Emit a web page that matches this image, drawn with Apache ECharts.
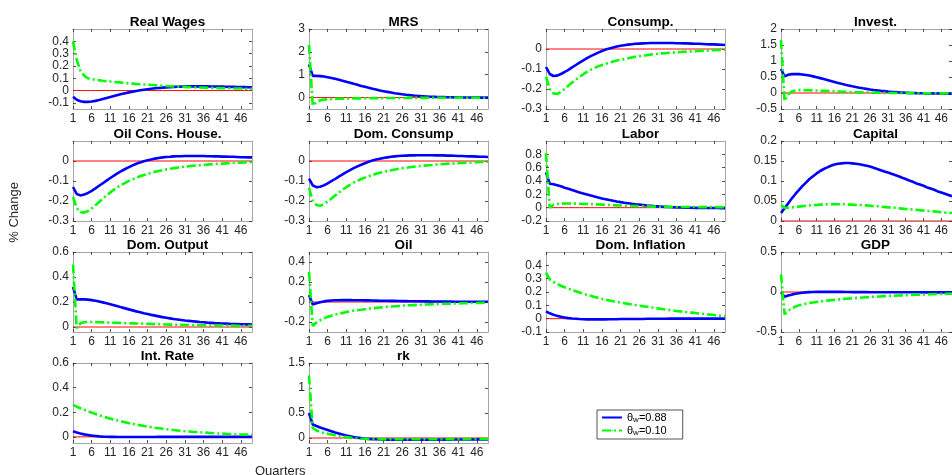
<!DOCTYPE html>
<html>
<head>
<meta charset="utf-8">
<script src="https://cdn.jsdelivr.net/npm/echarts@6/dist/echarts.min.js"></script>
<style>
  html, body { margin: 0; padding: 0; background: #fff; }
  #chart { width: 952px; height: 475px; }
</style>
</head>
<body>
<div id="chart"></div>
<script>
// quarters on the x axis and the tick labels shown under every panel
const quarters = [1,2,3,4,5,6,7,8,9,10,11,12,13,14,15,16,17,18,19,20,21,22,23,24,25,26,27,28,29,30,31,32,33,34,35,36,37,38,39,40,41,42,43,44,45,46,47,48,49];
const xTicks = [1,6,11,16,21,26,31,36,41,46];
// steady state reference (red line)
const zeroLine = [0,0,0,0,0,0,0,0,0,0,0,0,0,0,0,0,0,0,0,0,0,0,0,0,0,0,0,0,0,0,0,0,0,0,0,0,0,0,0,0,0,0,0,0,0,0,0,0,0];

// theta_w = 0.88 (blue) and theta_w = 0.10 (green), one pair per panel
const realWagesHigh = [-0.05,-0.075,-0.087,-0.092,-0.092,-0.089,-0.084,-0.077,-0.069,-0.061,-0.053,-0.045,-0.037,-0.029,-0.022,-0.015,-0.009,-0.003,0.002,0.007,0.011,0.015,0.018,0.021,0.024,0.026,0.028,0.030,0.031,0.032,0.033,0.034,0.034,0.034,0.034,0.034,0.034,0.033,0.033,0.032,0.032,0.031,0.030,0.030,0.029,0.028,0.028,0.027,0.026];
const realWagesLow = [0.40,0.25,0.16,0.12,0.10,0.093,0.087,0.083,0.079,0.076,0.073,0.070,0.067,0.064,0.061,0.058,0.056,0.053,0.051,0.049,0.047,0.045,0.043,0.041,0.039,0.037,0.035,0.034,0.032,0.031,0.029,0.028,0.027,0.026,0.025,0.024,0.023,0.022,0.021,0.020,0.019,0.018,0.018,0.017,0.016,0.016,0.015,0.015,0.014];

const mrsHigh = [1.45,0.95,0.95,0.94,0.92,0.89,0.86,0.82,0.78,0.74,0.69,0.65,0.60,0.56,0.51,0.47,0.43,0.39,0.35,0.31,0.28,0.25,0.22,0.19,0.17,0.145,0.125,0.108,0.092,0.078,0.066,0.055,0.046,0.038,0.031,0.025,0.020,0.015,0.011,0.008,0.005,0.003,0.001,0,-0.001,-0.002,-0.003,-0.003,-0.004];
const mrsLow = [2.3,-0.35,-0.2,-0.12,-0.09,-0.075,-0.065,-0.058,-0.053,-0.049,-0.045,-0.042,-0.039,-0.036,-0.034,-0.032,-0.030,-0.028,-0.026,-0.024,-0.023,-0.021,-0.020,-0.019,-0.018,-0.017,-0.016,-0.015,-0.014,-0.013,-0.012,-0.012,-0.011,-0.010,-0.010,-0.009,-0.009,-0.008,-0.008,-0.007,-0.007,-0.007,-0.006,-0.006,-0.006,-0.005,-0.005,-0.005,-0.005];

const consumpHigh = [-0.09,-0.125,-0.135,-0.133,-0.125,-0.115,-0.104,-0.092,-0.080,-0.068,-0.057,-0.046,-0.036,-0.027,-0.018,-0.010,-0.003,0.003,0.008,0.012,0.016,0.019,0.022,0.024,0.026,0.027,0.028,0.029,0.030,0.030,0.030,0.030,0.030,0.030,0.030,0.029,0.029,0.028,0.028,0.027,0.026,0.026,0.025,0.024,0.023,0.023,0.022,0.021,0.020];
const consumpLow = [-0.14,-0.2,-0.222,-0.225,-0.215,-0.2,-0.184,-0.168,-0.153,-0.139,-0.126,-0.114,-0.104,-0.095,-0.087,-0.080,-0.074,-0.068,-0.063,-0.058,-0.054,-0.050,-0.046,-0.042,-0.039,-0.036,-0.033,-0.031,-0.028,-0.026,-0.024,-0.022,-0.021,-0.019,-0.018,-0.016,-0.015,-0.014,-0.013,-0.012,-0.011,-0.010,-0.009,-0.008,-0.007,-0.006,-0.005,-0.004,-0.003];

const investHigh = [0.75,0.52,0.57,0.59,0.595,0.59,0.58,0.565,0.545,0.52,0.495,0.465,0.435,0.405,0.375,0.345,0.315,0.287,0.26,0.234,0.21,0.187,0.166,0.146,0.128,0.111,0.096,0.082,0.069,0.058,0.047,0.038,0.030,0.022,0.016,0.010,0.005,0.001,-0.003,-0.006,-0.009,-0.011,-0.013,-0.015,-0.016,-0.017,-0.018,-0.019,-0.020];
const investLow = [1.65,-0.25,-0.05,0.05,0.08,0.09,0.09,0.088,0.085,0.081,0.077,0.072,0.067,0.062,0.057,0.052,0.047,0.042,0.038,0.034,0.030,0.026,0.022,0.019,0.016,0.013,0.010,0.008,0.006,0.004,0.002,0,-0.001,-0.002,-0.003,-0.004,-0.005,-0.006,-0.007,-0.008,-0.008,-0.009,-0.009,-0.010,-0.010,-0.011,-0.011,-0.011,-0.012];

const oilConsHigh = [-0.13,-0.165,-0.172,-0.168,-0.16,-0.149,-0.137,-0.124,-0.111,-0.098,-0.085,-0.073,-0.061,-0.050,-0.040,-0.031,-0.022,-0.014,-0.007,-0.001,0.004,0.008,0.012,0.015,0.018,0.020,0.021,0.023,0.024,0.024,0.025,0.025,0.025,0.025,0.025,0.025,0.024,0.024,0.023,0.023,0.022,0.022,0.021,0.021,0.020,0.019,0.019,0.018,0.018];
const oilConsLow = [-0.18,-0.235,-0.255,-0.258,-0.25,-0.237,-0.222,-0.205,-0.188,-0.172,-0.157,-0.143,-0.131,-0.119,-0.109,-0.099,-0.091,-0.083,-0.076,-0.070,-0.064,-0.059,-0.054,-0.050,-0.046,-0.042,-0.039,-0.036,-0.033,-0.031,-0.028,-0.026,-0.024,-0.022,-0.021,-0.019,-0.018,-0.016,-0.015,-0.014,-0.013,-0.012,-0.011,-0.010,-0.009,-0.008,-0.007,-0.006,-0.005];

const domConsHigh = [-0.088,-0.122,-0.131,-0.129,-0.122,-0.112,-0.101,-0.090,-0.078,-0.067,-0.056,-0.046,-0.036,-0.027,-0.019,-0.011,-0.004,0.002,0.007,0.011,0.015,0.018,0.021,0.023,0.025,0.026,0.027,0.028,0.028,0.029,0.029,0.029,0.029,0.029,0.028,0.028,0.028,0.027,0.027,0.026,0.025,0.025,0.024,0.023,0.023,0.022,0.021,0.021,0.020];
const domConsLow = [-0.135,-0.198,-0.22,-0.224,-0.216,-0.203,-0.188,-0.173,-0.158,-0.144,-0.131,-0.119,-0.108,-0.099,-0.090,-0.083,-0.076,-0.070,-0.064,-0.059,-0.055,-0.050,-0.046,-0.043,-0.039,-0.036,-0.034,-0.031,-0.029,-0.027,-0.025,-0.023,-0.021,-0.020,-0.018,-0.017,-0.015,-0.014,-0.013,-0.012,-0.011,-0.010,-0.009,-0.008,-0.007,-0.006,-0.005,-0.004,-0.004];

const laborHigh = [0.53,0.36,0.35,0.335,0.32,0.30,0.283,0.265,0.247,0.229,0.211,0.196,0.181,0.166,0.152,0.139,0.127,0.115,0.104,0.093,0.083,0.074,0.066,0.058,0.051,0.045,0.039,0.033,0.028,0.023,0.019,0.015,0.012,0.009,0.006,0.004,0.002,0,-0.001,-0.002,-0.003,-0.004,-0.005,-0.005,-0.006,-0.006,-0.006,-0.007,-0.007];
const laborLow = [0.82,0.0,0.04,0.055,0.06,0.062,0.062,0.061,0.060,0.058,0.056,0.054,0.052,0.050,0.047,0.045,0.042,0.040,0.037,0.035,0.033,0.030,0.028,0.026,0.024,0.022,0.021,0.019,0.018,0.016,0.015,0.014,0.013,0.012,0.011,0.011,0.010,0.010,0.009,0.009,0.009,0.008,0.008,0.008,0.008,0.008,0.007,0.007,0.007];

const capitalHigh = [0.02,0.032,0.044,0.056,0.067,0.077,0.087,0.096,0.105,0.112,0.119,0.125,0.130,0.134,0.138,0.141,0.143,0.144,0.145,0.145,0.144,0.143,0.142,0.140,0.138,0.136,0.133,0.130,0.127,0.124,0.121,0.118,0.115,0.112,0.108,0.105,0.101,0.098,0.094,0.091,0.088,0.084,0.081,0.078,0.074,0.071,0.068,0.065,0.062];
const capitalLow = [0.04,0.033,0.033,0.034,0.035,0.036,0.037,0.038,0.039,0.040,0.040,0.041,0.041,0.042,0.042,0.042,0.042,0.042,0.042,0.041,0.041,0.040,0.040,0.039,0.039,0.038,0.037,0.037,0.036,0.035,0.034,0.034,0.033,0.032,0.031,0.030,0.029,0.029,0.028,0.027,0.026,0.025,0.025,0.024,0.023,0.022,0.021,0.021,0.020];

const domOutputHigh = [0.32,0.22,0.222,0.221,0.219,0.215,0.21,0.204,0.197,0.19,0.182,0.174,0.166,0.157,0.149,0.141,0.133,0.125,0.118,0.110,0.104,0.097,0.091,0.085,0.079,0.074,0.069,0.064,0.060,0.056,0.052,0.049,0.046,0.043,0.040,0.038,0.035,0.033,0.031,0.030,0.028,0.027,0.025,0.024,0.023,0.022,0.021,0.021,0.020];
const domOutputLow = [0.5,-0.01,0.03,0.038,0.04,0.04,0.039,0.038,0.037,0.036,0.035,0.034,0.033,0.032,0.031,0.030,0.029,0.028,0.027,0.026,0.025,0.024,0.023,0.022,0.021,0.020,0.019,0.019,0.018,0.017,0.016,0.016,0.015,0.015,0.014,0.014,0.013,0.013,0.012,0.012,0.012,0.011,0.011,0.011,0.010,0.010,0.010,0.010,0.010];

const oilHigh = [0.07,-0.025,-0.012,-0.002,0.006,0.011,0.015,0.017,0.018,0.019,0.019,0.019,0.018,0.018,0.017,0.016,0.016,0.015,0.014,0.013,0.013,0.012,0.011,0.011,0.010,0.009,0.009,0.008,0.008,0.007,0.007,0.006,0.006,0.005,0.005,0.005,0.004,0.004,0.004,0.003,0.003,0.003,0.003,0.002,0.002,0.002,0.002,0.002,0.002];
const oilLow = [0.3,-0.24,-0.205,-0.182,-0.164,-0.149,-0.137,-0.126,-0.117,-0.109,-0.101,-0.094,-0.088,-0.082,-0.077,-0.072,-0.067,-0.063,-0.059,-0.055,-0.052,-0.048,-0.045,-0.042,-0.040,-0.037,-0.035,-0.033,-0.031,-0.029,-0.027,-0.025,-0.024,-0.022,-0.021,-0.019,-0.018,-0.017,-0.016,-0.015,-0.014,-0.013,-0.012,-0.011,-0.010,-0.010,-0.009,-0.008,-0.008];

const domInflHigh = [0.055,0.04,0.03,0.021,0.014,0.008,0.004,0.001,-0.001,-0.003,-0.004,-0.005,-0.005,-0.005,-0.005,-0.005,-0.005,-0.004,-0.004,-0.004,-0.003,-0.003,-0.003,-0.002,-0.002,-0.002,-0.002,-0.001,-0.001,-0.001,-0.001,-0.001,-0.001,0,0,0,0,0,0,0,0,0,0,0,0,0,0,0,0];
const domInflLow = [0.345,0.295,0.275,0.26,0.247,0.236,0.225,0.215,0.205,0.196,0.187,0.179,0.171,0.163,0.156,0.149,0.143,0.137,0.131,0.126,0.121,0.116,0.111,0.106,0.102,0.097,0.093,0.089,0.085,0.081,0.077,0.073,0.069,0.065,0.062,0.058,0.055,0.051,0.048,0.045,0.042,0.039,0.036,0.033,0.030,0.027,0.024,0.021,0.018];

const gdpHigh = [0.0,-0.06,-0.045,-0.033,-0.023,-0.015,-0.009,-0.005,-0.002,0.0,0.001,0.002,0.002,0.002,0.002,0.002,0.001,0.001,0.0,0.0,-0.001,-0.001,-0.002,-0.002,-0.002,-0.003,-0.003,-0.003,-0.003,-0.004,-0.004,-0.004,-0.004,-0.004,-0.004,-0.004,-0.004,-0.004,-0.004,-0.004,-0.005,-0.005,-0.005,-0.005,-0.005,-0.005,-0.005,-0.005,-0.005];
const gdpLow = [0.22,-0.28,-0.235,-0.205,-0.183,-0.167,-0.155,-0.146,-0.138,-0.131,-0.125,-0.119,-0.113,-0.108,-0.103,-0.098,-0.094,-0.090,-0.086,-0.082,-0.079,-0.075,-0.072,-0.069,-0.066,-0.063,-0.060,-0.057,-0.055,-0.052,-0.050,-0.048,-0.046,-0.044,-0.042,-0.040,-0.038,-0.036,-0.034,-0.033,-0.031,-0.030,-0.028,-0.027,-0.025,-0.024,-0.023,-0.022,-0.021];

const intRateHigh = [0.045,0.035,0.027,0.02,0.015,0.01,0.007,0.004,0.002,0.001,0,0,-0.001,-0.001,-0.001,-0.001,-0.001,-0.001,-0.001,-0.001,-0.001,-0.001,-0.001,0,0,0,0,0,0,0,0,0,0,0,0,0,0,0,0,0,0,0,0,0,0,0,0,0,0];
const intRateLow = [0.26,0.245,0.232,0.22,0.208,0.197,0.186,0.176,0.166,0.157,0.148,0.14,0.132,0.125,0.118,0.111,0.105,0.099,0.094,0.088,0.083,0.079,0.074,0.07,0.066,0.062,0.059,0.055,0.052,0.049,0.046,0.044,0.041,0.039,0.037,0.035,0.033,0.031,0.029,0.027,0.026,0.024,0.023,0.022,0.02,0.019,0.018,0.017,0.016];

const rkHigh = [0.5,0.27,0.24,0.21,0.185,0.16,0.135,0.11,0.088,0.068,0.05,0.034,0.02,0.008,-0.002,-0.01,-0.017,-0.022,-0.026,-0.029,-0.031,-0.033,-0.034,-0.035,-0.036,-0.036,-0.036,-0.036,-0.036,-0.036,-0.035,-0.035,-0.035,-0.034,-0.034,-0.033,-0.033,-0.032,-0.032,-0.031,-0.031,-0.030,-0.030,-0.029,-0.029,-0.028,-0.028,-0.027,-0.027];
const rkLow = [1.25,0.2,0.15,0.12,0.1,0.085,0.07,0.055,0.04,0.028,0.017,0.008,0,-0.006,-0.011,-0.015,-0.018,-0.02,-0.022,-0.023,-0.024,-0.025,-0.025,-0.026,-0.026,-0.026,-0.026,-0.026,-0.026,-0.025,-0.025,-0.025,-0.025,-0.024,-0.024,-0.024,-0.023,-0.023,-0.023,-0.022,-0.022,-0.022,-0.021,-0.021,-0.021,-0.020,-0.020,-0.020,-0.019];

// panel titles, y limits and y tick labels
const panels = [
  {title: 'Real Wages', min: -0.15, max: 0.5, ticks: [-0.1, 0, 0.1, 0.2, 0.3, 0.4], high: realWagesHigh, low: realWagesLow},
  {title: 'MRS', min: -0.5, max: 3, ticks: [0, 1, 2, 3], high: mrsHigh, low: mrsLow},
  {title: 'Consump.', min: -0.3, max: 0.1, ticks: [-0.3, -0.2, -0.1, 0], high: consumpHigh, low: consumpLow},
  {title: 'Invest.', min: -0.5, max: 2, ticks: [-0.5, 0, 0.5, 1, 1.5, 2], high: investHigh, low: investLow},
  {title: 'Oil Cons. House.', min: -0.3, max: 0.1, ticks: [-0.3, -0.2, -0.1, 0], high: oilConsHigh, low: oilConsLow},
  {title: 'Dom. Consump', min: -0.3, max: 0.1, ticks: [-0.3, -0.2, -0.1, 0], high: domConsHigh, low: domConsLow},
  {title: 'Labor', min: -0.2, max: 1, ticks: [-0.2, 0, 0.2, 0.4, 0.6, 0.8], high: laborHigh, low: laborLow},
  {title: 'Capital', min: 0, max: 0.2, ticks: [0, 0.05, 0.1, 0.15, 0.2], high: capitalHigh, low: capitalLow},
  {title: 'Dom. Output', min: -0.04, max: 0.6, ticks: [0, 0.2, 0.4, 0.6], high: domOutputHigh, low: domOutputLow},
  {title: 'Oil', min: -0.3, max: 0.5, ticks: [-0.2, 0, 0.2, 0.4], high: oilHigh, low: oilLow},
  {title: 'Dom. Inflation', min: -0.1, max: 0.5, ticks: [-0.1, 0, 0.1, 0.2, 0.3, 0.4], high: domInflHigh, low: domInflLow},
  {title: 'GDP', min: -0.5, max: 0.5, ticks: [-0.5, 0, 0.5], high: gdpHigh, low: gdpLow},
  {title: 'Int. Rate', min: -0.05, max: 0.6, ticks: [0, 0.2, 0.4, 0.6], high: intRateHigh, low: intRateLow},
  {title: 'rk', min: -0.1, max: 1.5, ticks: [0, 0.5, 1, 1.5], high: rkHigh, low: rkLow}
];

const colLeft = [73, 309, 546, 781];
const rowTop = [29, 141, 252, 363];
const plotW = 179;
const plotH = 80;
const font = '"Liberation Sans", Arial, Helvetica, sans-serif';
const boxColor = '#a6a6a6';
const tickColor = '#262626';

let grids = [], xAxes = [], yAxes = [], series = [], titles = [];

panels.forEach(function (p, i) {
  let left = colLeft[i % 4];
  let top = rowTop[Math.floor(i / 4)];

  grids.push({left: left, top: top, width: plotW, height: plotH});
  titles.push({
    text: p.title,
    left: left + plotW / 2,
    top: top - 19,
    textAlign: 'center',
    textStyle: {fontFamily: font, fontSize: 13.5, fontWeight: 'bold', color: '#000'}
  });

  let xBase = {
    type: 'value', gridIndex: i, min: 1, max: 49,
    axisLine: {show: true, onZero: false, lineStyle: {color: boxColor, width: 1}},
    axisTick: {show: true, inside: true, length: 3, customValues: xTicks, lineStyle: {color: tickColor, width: 0.8}},
    splitLine: {show: false}
  };
  xAxes.push(Object.assign({}, xBase, {
    position: 'bottom',
    axisLabel: {show: true, customValues: xTicks, margin: 4, fontFamily: font, fontSize: 12, color: tickColor}
  }));
  xAxes.push(Object.assign({}, xBase, {position: 'top', axisLabel: {show: false}}));

  let yBase = {
    type: 'value', gridIndex: i, min: p.min, max: p.max,
    axisLine: {show: true, onZero: false, lineStyle: {color: boxColor, width: 1}},
    axisTick: {show: true, inside: true, length: 3, customValues: p.ticks, lineStyle: {color: tickColor, width: 0.8}},
    splitLine: {show: false}
  };
  yAxes.push(Object.assign({}, yBase, {
    position: 'left',
    axisLabel: {show: true, customValues: p.ticks, margin: 4, fontFamily: font, fontSize: 12, color: tickColor}
  }));
  yAxes.push(Object.assign({}, yBase, {position: 'right', axisLabel: {show: false}}));

  series.push({
    name: 'zero', type: 'line', xAxisIndex: 2 * i, yAxisIndex: 2 * i, z: 2, silent: true,
    symbol: 'none', animation: false,
    lineStyle: {color: '#ff0000', width: 1},
    data: quarters.map((q, k) => [q, zeroLine[k]])
  });
  series.push({
    name: 'high', type: 'line', xAxisIndex: 2 * i, yAxisIndex: 2 * i, z: 3,
    symbol: 'none', animation: false,
    lineStyle: {color: '#0000ff', width: 2.6},
    itemStyle: {color: '#0000ff'},
    data: quarters.map((q, k) => [q, p.high[k]])
  });
  series.push({
    name: 'low', type: 'line', xAxisIndex: 2 * i, yAxisIndex: 2 * i, z: 4,
    symbol: 'none', animation: false,
    lineStyle: {color: '#00ff00', width: 2.6, type: [9, 3, 2, 3]},
    itemStyle: {color: '#00ff00'},
    data: quarters.map((q, k) => [q, p.low[k]])
  });
});

let chart = echarts.init(document.getElementById('chart'));

chart.setOption({
  backgroundColor: '#fff',
  animation: false,
  title: titles,
  grid: grids,
  xAxis: xAxes,
  yAxis: yAxes,
  series: series,
  legend: {
    data: ['high', 'low'],
    orient: 'vertical',
    left: 597,
    top: 410,
    itemWidth: 20,
    itemHeight: 2,
    itemGap: 1,
    padding: [2, 16, 2, 4],
    backgroundColor: '#fff',
    borderColor: '#262626',
    borderWidth: 0.8,
    formatter: function (name) {
      return name === 'high' ? '{t|θ}{s|w}{t|=0.88}' : '{t|θ}{s|w}{t|=0.10}';
    },
    textStyle: {
      fontFamily: font,
      color: '#000',
      rich: {
        t: {fontSize: 11, fontFamily: font},
        s: {fontSize: 8, fontFamily: font, padding: [5, 0, 0, 0]}
      }
    }
  },
  graphic: [
    {
      type: 'text', left: 8, top: 182, rotation: Math.PI / 2,
      style: {text: '% Change', fontFamily: font, fontSize: 13, fill: '#262626'}
    },
    {
      type: 'text', left: 255, top: 465,
      style: {text: 'Quarters', fontFamily: font, fontSize: 13, fill: '#262626'}
    }
  ]
});
</script>
</body>
</html>
